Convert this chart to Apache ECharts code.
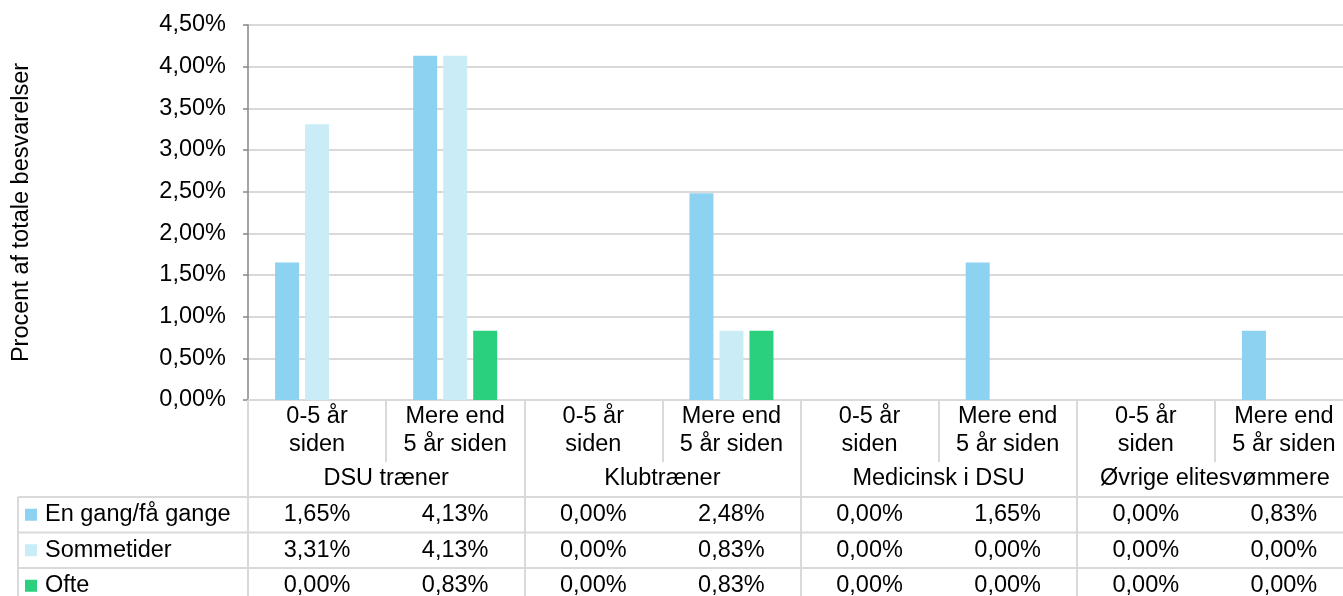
<!DOCTYPE html>
<html><head><meta charset="utf-8">
<script src="https://cdn.jsdelivr.net/npm/echarts@6/dist/echarts.min.js"></script>
<style>html,body{margin:0;padding:0;background:#fff}#c{width:1343px;height:596px}</style>
</head><body><div id="c"></div>
<script>
// ---- data ----
const categories = ['0-5 år\nsiden', 'Mere end\n5 år siden', '0-5 år\nsiden', 'Mere end\n5 år siden',
                    '0-5 år\nsiden', 'Mere end\n5 år siden', '0-5 år\nsiden', 'Mere end\n5 år siden'];
const groups = ['DSU træner', 'Klubtræner', 'Medicinsk i DSU', 'Øvrige elitesvømmere'];
const seriesNames = ['En gang/få gange', 'Sommetider', 'Ofte'];
const enGang = [1.65, 4.13, 0.00, 2.48, 0.00, 1.65, 0.00, 0.83];
const sommetider = [3.31, 4.13, 0.00, 0.83, 0.00, 0.00, 0.00, 0.00];
const ofte = [0.00, 0.83, 0.00, 0.83, 0.00, 0.00, 0.00, 0.00];
const yAxisTitle = 'Procent af totale besvarelser';
const yMin = 0, yMax = 4.5, yStep = 0.5;

// ---- styles ----
const FONT = "'Liberation Sans', Arial, sans-serif";
const FS = 23.5;
const colors = ['#8dd3f1', '#c9ecf7', '#2bd07f'];
const lineCol = '#d9d9d9';
const rows = [enGang, sommetider, ofte];
const rowTop = 97, rowH = 35.5;

const fmt = v => v.toFixed(2).replace('.', ',') + '%';

const chart = echarts.init(document.getElementById('c'), null, {renderer: 'canvas'});

const xAxes = [
  {
    type: 'category', data: categories, gridIndex: 0,
    axisLine: {show: true, lineStyle: {color: lineCol, width: 2}},
    axisTick: {show: true, interval: 0, length: 62, lineStyle: {color: lineCol, width: 2}},
    axisLabel: {interval: 0, margin: 3, color: '#000', fontFamily: FONT, fontSize: FS, lineHeight: 28}
  },
  {
    type: 'category', data: groups, gridIndex: 0, position: 'bottom',
    axisLine: {show: false},
    axisTick: {show: true, interval: 0, length: 204, lineStyle: {color: lineCol, width: 2}},
    axisLabel: {interval: 0, margin: 61, color: '#000', fontFamily: FONT, fontSize: FS, lineHeight: 36}
  }
];
rows.forEach((r, k) => {
  xAxes.push({
    type: 'category', data: categories, gridIndex: 0, position: 'bottom',
    offset: rowTop + k * rowH,
    axisLine: {show: false}, axisTick: {show: false},
    axisLabel: {interval: 0, margin: 0, color: '#000', fontFamily: FONT, fontSize: FS, lineHeight: rowH,
      formatter: (v, i) => fmt(r[i])}
  });
});

chart.setOption({
  animation: false,
  backgroundColor: '#fff',
  grid: {left: 248, right: -10, top: 25, height: 375, containLabel: false, outerBoundsMode: 'none'},
  xAxis: xAxes,
  yAxis: {
    type: 'value', min: yMin, max: yMax, interval: yStep,
    name: yAxisTitle, nameLocation: 'middle', nameRotate: 90, nameGap: 214,
    nameTextStyle: {color: '#000', fontFamily: FONT, fontSize: FS},
    axisLine: {show: true, lineStyle: {color: '#868686', width: 1.5}},
    axisTick: {show: true, length: 5, lineStyle: {color: '#868686', width: 1.5}},
    axisLabel: {margin: 22, color: '#000', fontFamily: FONT, fontSize: FS, formatter: v => fmt(v)},
    splitLine: {show: true, lineStyle: {color: lineCol, width: 2}}
  },
  series: rows.map((r, k) => ({
    name: seriesNames[k], type: 'bar', xAxisIndex: 0, data: r,
    barWidth: 24, barGap: '25%',
    itemStyle: {color: colors[k], borderWidth: 0}
  }))
});

// ---- table lines and legend column ----
const c0 = chart.convertToPixel({xAxisIndex: 0}, 0);
const c1 = chart.convertToPixel({xAxisIndex: 0}, 1);
const band = c1 - c0;
const rightX = chart.convertToPixel({xAxisIndex: 0}, categories.length - 1) + band / 2;
const baseY = chart.convertToPixel({yAxisIndex: 0}, 0);
const leftX = 18;
const g = [];
for (let k = 0; k < rows.length; k++) {
  const y = baseY + rowTop + k * rowH;
  g.push({type: 'line', shape: {x1: leftX, y1: y, x2: rightX, y2: y}, style: {stroke: lineCol, lineWidth: 2}, silent: true});
  g.push({type: 'rect', shape: {x: 25, y: y + rowH / 2 - 6, width: 12, height: 12}, style: {fill: colors[k]}});
  g.push({type: 'text', x: 45, y: y + rowH / 2, style: {text: seriesNames[k], fill: '#000', font: FS + 'px ' + FONT, verticalAlign: 'middle', align: 'left'}});
}
g.push({type: 'line', shape: {x1: leftX, y1: baseY + rowTop, x2: leftX, y2: 610}, style: {stroke: lineCol, lineWidth: 2}});
chart.setOption({graphic: g});
</script>
</body></html>
